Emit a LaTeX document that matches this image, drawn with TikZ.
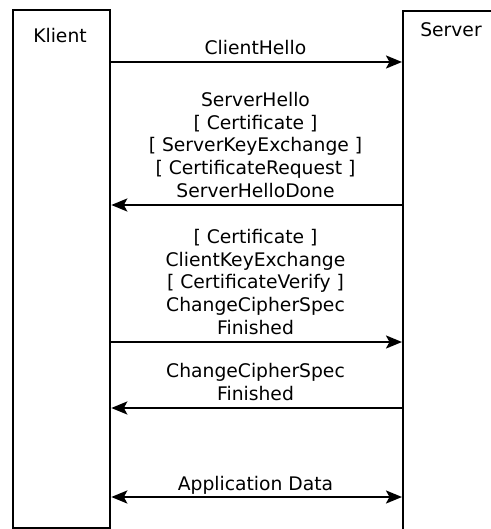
\documentclass[tikz,border=0pt]{standalone}
\usepackage{fontspec}
\setmainfont{DejaVu Sans}
\usetikzlibrary{arrows.meta}
\begin{document}
\begin{tikzpicture}[x=1bp,y=-1bp,
  party/.style={draw, line width=2.3bp, inner sep=0pt, anchor=north west},
  partyname/.style={inner sep=0pt, anchor=base},
  tip/.style={Stealth[length=16bp,width=13bp,inset=3.5bp]},
  msg/.style={line width=2.3bp, -{Stealth[length=16bp,width=13bp,inset=3.5bp]}},
  dmsg/.style={line width=2.3bp, {Stealth[length=16bp,width=13bp,inset=3.5bp]}-{Stealth[length=16bp,width=13bp,inset=3.5bp]}},
  msglabel/.style={inner sep=0pt, anchor=south, align=center, text depth=0pt,
    font=\fontsize{18.8}{23}\selectfont}]
  \useasboundingbox (0,0) rectangle (491,529);
  \clip (0,0) rectangle (491,529);
  \fill[white] (0,0) rectangle (491,529);

  % the two parties
  \node[party, minimum width=97bp, minimum height=518bp] (klient) at (12,9) {};
  \node[party, minimum width=120bp, minimum height=520bp] (server) at (402,10) {};
  \node[partyname, font=\fontsize{18.8}{23}\selectfont] (klientname) at (60,42.5) {Klient};
  \node[partyname, font=\fontsize{18.8}{23}\selectfont] (servername) at (451,36.5) {Server};

  % handshake messages
  \coordinate (c1) at (0,62);
  \coordinate (c2) at (0,205);
  \coordinate (c3) at (0,342);
  \coordinate (c4) at (0,408);
  \coordinate (c5) at (0,497);

  \draw[msg] (klient.east |- c1) -- (server.west |- c1);
  \node[msglabel] (m1) at (255.5,55) {ClientHello};

  \draw[msg] (server.west |- c2) -- (klient.east |- c2);
  \node[msglabel] (m2) at (255.5,198) {ServerHello\\{}[ Certificate ]\\{}[ ServerKeyExchange ]\\{}[ CertificateRequest ]\\ServerHelloDone};

  \draw[msg] (klient.east |- c3) -- (server.west |- c3);
  \node[msglabel] (m3) at (255.5,335) {[ Certificate ]\\ClientKeyExchange\\{}[ CertificateVerify ]\\ChangeCipherSpec\\Finished};

  \draw[msg] (server.west |- c4) -- (klient.east |- c4);
  \node[msglabel] (m4) at (255.5,400.5) {ChangeCipherSpec\\Finished};

  \draw[dmsg] (klient.east |- c5) -- (server.west |- c5);
  \node[msglabel] (m5) at (255.5,491) {Application Data};
\end{tikzpicture}
\end{document}
